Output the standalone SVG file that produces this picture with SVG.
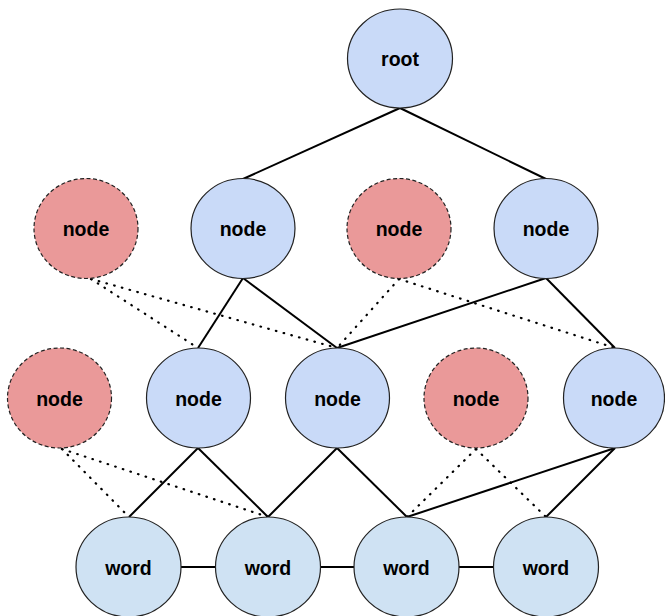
<svg xmlns="http://www.w3.org/2000/svg" width="665" height="616" viewBox="0 0 665 616">
  <style>
    .n ellipse { stroke: #222; stroke-width: 1.2; }
    .blue ellipse { fill: #c9daf8; }
    .word ellipse { fill: #cfe2f3; }
    .ghost ellipse { fill: #ea9999; stroke-dasharray: 4 2.5; }
    .n text { font-family: "Liberation Sans", Arial, sans-serif; font-weight: bold; font-size: 19.5px; text-anchor: middle; fill: #000; }
    .solid { stroke: #000; stroke-width: 2; fill: none; }
    .dot { stroke: #000; stroke-width: 2.2; fill: none; stroke-dasharray: 0.6 7.4; stroke-linecap: round; }
  </style>

  <rect width="665" height="616" fill="#fff"/>

  <g id="connectors">
    <!-- root to upper tree nodes -->
    <line class="solid" x1="400" y1="108" x2="243" y2="179"/>
    <line class="solid" x1="400" y1="108" x2="546" y2="179"/>
    <!-- upper layer to middle layer -->
    <line class="solid" x1="243" y1="278" x2="198" y2="348"/>
    <line class="solid" x1="243" y1="278" x2="337" y2="348"/>
    <line class="solid" x1="546" y1="278" x2="337" y2="348"/>
    <line class="solid" x1="546" y1="278" x2="615" y2="348"/>
    <!-- middle layer to words -->
    <line class="solid" x1="198" y1="448" x2="129" y2="517"/>
    <line class="solid" x1="198" y1="448" x2="268" y2="517"/>
    <line class="solid" x1="337" y1="448" x2="268" y2="517"/>
    <line class="solid" x1="337" y1="448" x2="407" y2="517"/>
    <line class="solid" x1="615" y1="448" x2="407" y2="517"/>
    <line class="solid" x1="615" y1="448" x2="546" y2="517"/>
    <!-- word sequence -->
    <line class="solid" x1="181" y1="567" x2="216" y2="567"/>
    <line class="solid" x1="320" y1="567" x2="355" y2="567"/>
    <line class="solid" x1="459" y1="567" x2="494" y2="567"/>
    <!-- dotted links from alternative nodes -->
    <line class="dot" x1="91" y1="279" x2="198" y2="348"/>
    <line class="dot" x1="91" y1="279" x2="337" y2="348"/>
    <line class="dot" x1="399" y1="279" x2="337" y2="348"/>
    <line class="dot" x1="399" y1="279" x2="615" y2="348"/>
    <line class="dot" x1="62" y1="449" x2="129" y2="517"/>
    <line class="dot" x1="62" y1="449" x2="268" y2="517"/>
    <line class="dot" x1="476" y1="449" x2="407" y2="517"/>
    <line class="dot" x1="476" y1="449" x2="546" y2="517"/>
  </g>

  <g id="root" class="n blue"><ellipse cx="400" cy="58.5" rx="52.5" ry="49.5"/><text x="400" y="66">root</text></g>

  <g id="node-a1" class="n ghost"><ellipse cx="86" cy="228.5" rx="52" ry="50"/><text x="86" y="236">node</text></g>
  <g id="node-a2" class="n blue"><ellipse cx="243" cy="228.5" rx="52" ry="50"/><text x="243" y="236">node</text></g>
  <g id="node-a3" class="n ghost"><ellipse cx="399" cy="228.5" rx="52" ry="50"/><text x="399" y="236">node</text></g>
  <g id="node-a4" class="n blue"><ellipse cx="546" cy="228.5" rx="52" ry="50"/><text x="546" y="236">node</text></g>

  <g id="node-b1" class="n ghost"><ellipse cx="59.5" cy="398" rx="52" ry="50"/><text x="59.5" y="405.5">node</text></g>
  <g id="node-b2" class="n blue"><ellipse cx="198.5" cy="398" rx="52" ry="50"/><text x="198.5" y="405.5">node</text></g>
  <g id="node-b3" class="n blue"><ellipse cx="337.5" cy="398" rx="52" ry="50"/><text x="337.5" y="405.5">node</text></g>
  <g id="node-b4" class="n ghost"><ellipse cx="476" cy="398" rx="52" ry="50"/><text x="476" y="405.5">node</text></g>
  <g id="node-b5" class="n blue"><ellipse cx="614" cy="398" rx="50.5" ry="50"/><text x="614" y="405.5">node</text></g>

  <g id="word-1" class="n word"><ellipse cx="128.5" cy="567" rx="52.5" ry="50"/><text x="128.5" y="574.5">word</text></g>
  <g id="word-2" class="n word"><ellipse cx="268" cy="567" rx="52.5" ry="50"/><text x="268" y="574.5">word</text></g>
  <g id="word-3" class="n word"><ellipse cx="406.5" cy="567" rx="52.5" ry="50"/><text x="406.5" y="574.5">word</text></g>
  <g id="word-4" class="n word"><ellipse cx="546" cy="567" rx="52.5" ry="50"/><text x="546" y="574.5">word</text></g>
</svg>
